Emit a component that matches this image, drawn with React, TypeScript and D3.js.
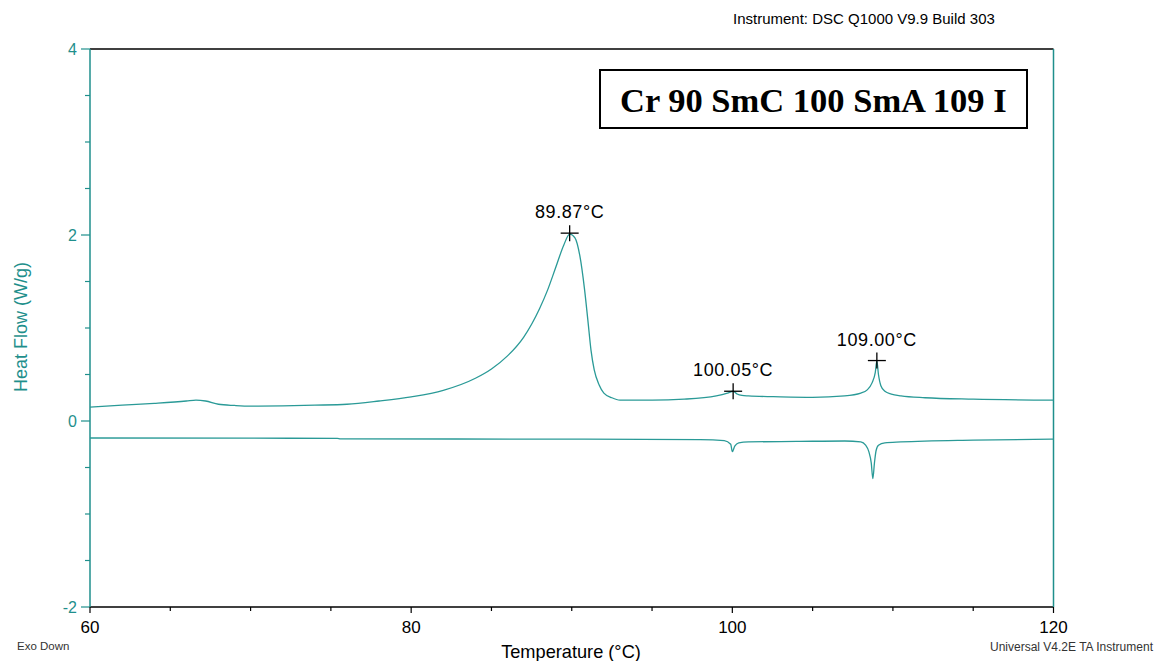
import React from "react";
import * as d3 from "d3";

const heatTemp = [60, 62, 64, 66, 66.6, 67.2, 68, 69, 70, 72, 74, 76, 78, 80, 82, 84, 85, 86, 87, 88, 88.5, 89, 89.5, 89.87, 90.2, 90.5, 90.8, 91.0, 91.2, 91.4, 91.7, 92, 92.5, 93, 95, 97, 99, 99.7, 100.05, 100.3, 100.6, 101, 103, 105, 107, 108, 108.4, 108.7, 108.9, 109.0, 109.1, 109.25, 109.5, 109.9, 110.5, 112, 115, 120];
const heatFlow = [0.15, 0.17, 0.19, 0.215, 0.225, 0.215, 0.18, 0.167, 0.16, 0.163, 0.17, 0.18, 0.215, 0.26, 0.33, 0.46, 0.56, 0.7, 0.9, 1.21, 1.41, 1.65, 1.89, 2.01, 1.97, 1.78, 1.41, 1.09, 0.76, 0.55, 0.39, 0.3, 0.25, 0.225, 0.225, 0.235, 0.27, 0.3, 0.32, 0.29, 0.275, 0.27, 0.26, 0.255, 0.27, 0.3, 0.335, 0.41, 0.52, 0.645, 0.5, 0.38, 0.32, 0.29, 0.27, 0.25, 0.235, 0.225];

const coolTemp = [60, 70, 75.4, 75.6, 90, 98, 99.5, 99.9, 100.0, 100.15, 100.4, 101, 104, 107, 108, 108.3, 108.5, 108.65, 108.75, 108.85, 108.95, 109.1, 109.5, 110.5, 115, 120];
const coolFlow = [-0.183, -0.185, -0.186, -0.192, -0.195, -0.2, -0.21, -0.25, -0.33, -0.27, -0.235, -0.225, -0.22, -0.215, -0.225, -0.26, -0.33, -0.45, -0.62, -0.45, -0.32, -0.26, -0.235, -0.225, -0.205, -0.195];

const peakTemps = [89.87, 100.05, 109.0];
const peakFlows = [2.02, 0.32, 0.65];
const peakLabels = ["89.87°C", "100.05°C", "109.00°C"];

const xMajor = [60, 80, 100, 120];
const xMinor = [65, 70, 75, 85, 90, 95, 105, 110, 115];
const yMajor = [4, 2, 0, -2];
const yMinor = [3.5, 3, 2.5, 1.5, 1, 0.5, -0.5, -1, -1.5];

const TEAL = "#1f8f8c";
const CURVE = "#2a9a97";

export default function App() {
  const x = d3.scaleLinear().domain([60, 120]).range([90, 1053.5]);
  const y = d3.scaleLinear().domain([-2, 4]).range([607, 49]);
  const line = d3
    .line<[number, number]>()
    .x((d) => x(d[0]))
    .y((d) => y(d[1]))
    .curve(d3.curveMonotoneX);
  const heat = heatTemp.map((t, i) => [t, heatFlow[i]] as [number, number]);
  const cool = coolTemp.map((t, i) => [t, coolFlow[i]] as [number, number]);
  const sans = "Arial, 'Liberation Sans', Helvetica, sans-serif";
  const serif = "'Times New Roman', 'Liberation Serif', serif";

  return (
    <div style={{ position: "absolute", left: 0, top: 0 }}>
      <svg width={1154} height={661} style={{ display: "block", background: "#fff" }}>
        {/* frame */}
        <line x1={90} x2={1053.5} y1={49} y2={49} stroke="#000" strokeWidth={1.5} />
        <line x1={90} x2={1053.5} y1={607} y2={607} stroke="#000" strokeWidth={1.5} />
        <line x1={90} x2={90} y1={49} y2={607} stroke={TEAL} strokeWidth={1.5} />
        <line x1={1053.5} x2={1053.5} y1={49} y2={607} stroke={TEAL} strokeWidth={1.5} />

        {/* y ticks */}
        {yMajor.map((v) => (
          <g key={"ym" + v}>
            <line x1={81} x2={90} y1={y(v)} y2={y(v)} stroke={TEAL} strokeWidth={1.2} />
            <text x={77} y={y(v) + 6} textAnchor="end" fontFamily={sans} fontSize={16} fill={TEAL}>
              {v < 0 ? "-" + Math.abs(v) : String(v)}
            </text>
          </g>
        ))}
        {yMinor.map((v) => (
          <line key={"yn" + v} x1={85} x2={90} y1={y(v)} y2={y(v)} stroke={TEAL} strokeWidth={1.2} />
        ))}
        {/* x ticks */}
        {xMajor.map((v) => (
          <g key={"xm" + v}>
            <line x1={x(v)} x2={x(v)} y1={607} y2={613} stroke="#000" strokeWidth={1.2} />
            <text x={x(v)} y={633} textAnchor="middle" fontFamily={sans} fontSize={17} fill="#000">
              {v}
            </text>
          </g>
        ))}
        {xMinor.map((v) => (
          <line key={"xn" + v} x1={x(v)} x2={x(v)} y1={607} y2={611} stroke="#000" strokeWidth={1.2} />
        ))}

        {/* curves */}
        <path d={line(heat) || ""} fill="none" stroke={CURVE} strokeWidth={1.3} />
        <path d={line(cool) || ""} fill="none" stroke={CURVE} strokeWidth={1.3} />

        {/* peak markers */}
        {peakTemps.map((t, i) => (
          <g key={"pk" + i}>
            <line x1={x(t) - 9} x2={x(t) + 9} y1={y(peakFlows[i])} y2={y(peakFlows[i])} stroke="#000" strokeWidth={1.3} />
            <line x1={x(t)} x2={x(t)} y1={y(peakFlows[i]) - 8} y2={y(peakFlows[i]) + 8} stroke="#000" strokeWidth={1.3} />
            <text x={x(t)} y={y(peakFlows[i]) - 15} textAnchor="middle" fontFamily={sans} fontSize={18} letterSpacing={0.6} fill="#000">
              {peakLabels[i]}
            </text>
          </g>
        ))}

        {/* title box */}
        <rect x={600} y={70} width={427} height={58} fill="#fff" stroke="#000" strokeWidth={2} />
        <text x={620} y={112} fontFamily={serif} fontWeight="bold" fontSize={34.5} fill="#000">
          Cr 90 SmC 100 SmA 109 I
        </text>

        {/* texts */}
        <text x={733} y={24} fontFamily={sans} fontSize={15} fill="#000">
          Instrument: DSC Q1000 V9.9 Build 303
        </text>
        <text x={17} y={650} fontFamily={sans} fontSize={11.5} fill="#333">
          Exo Down
        </text>
        <text x={990} y={651} fontFamily={sans} fontSize={12} fill="#333">
          Universal V4.2E TA Instrument
        </text>
        <text x={571} y={658} textAnchor="middle" fontFamily={sans} fontSize={18.2} fill="#000">
          Temperature (°C)
        </text>
        <text
          transform="translate(27,327) rotate(-90)"
          textAnchor="middle"
          fontFamily={sans}
          fontSize={18}
          fill={TEAL}
        >
          Heat Flow (W/g)
        </text>
      </svg>
    </div>
  );
}
